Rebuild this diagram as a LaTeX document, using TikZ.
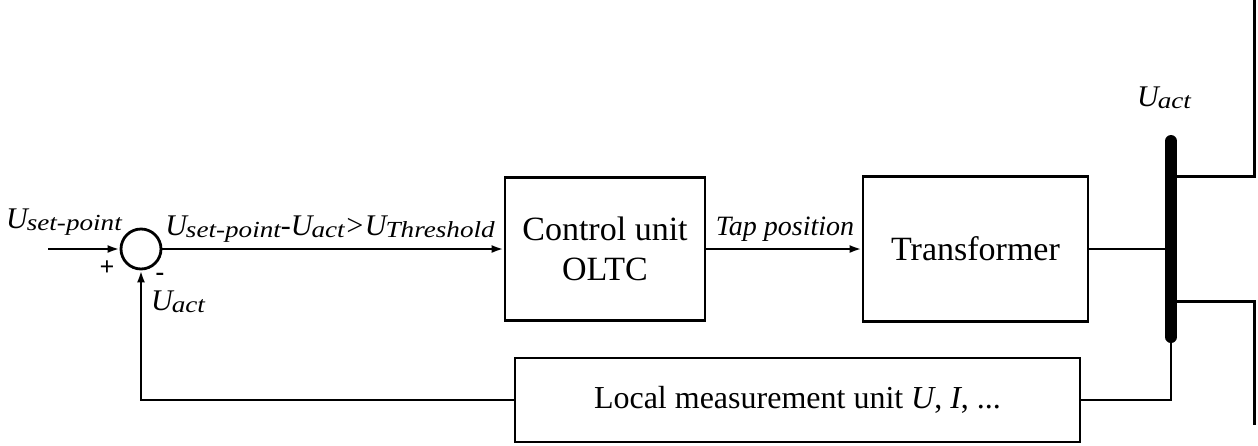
\documentclass[tikz,border=0pt]{standalone}
\usepackage{fontspec}
\setmainfont{Liberation Serif}
\usetikzlibrary{arrows.meta}
\newcommand\Uv[1]{{\fontsize{30}{30}\selectfont\itshape U\kern-1pt\raisebox{-2pt}{\scalebox{1.18}[1]{\fontsize{23}{23}\selectfont #1}}}}
\begin{document}
\begin{tikzpicture}[x=1pt,y=-1pt,
  blk/.style={draw, line width=2.8pt, inner sep=0pt, align=center, font=\fontsize{34}{40}\selectfont},
  arr/.style={-{Latex[length=12pt,width=8pt]}},
  wire/.style={line width=2.5pt},
  branch/.style={line width=3pt},
  busbar/.style={line width=12pt, line cap=round},
  lbl/.style={inner sep=0pt}]
\useasboundingbox (0,0) rectangle (1258,445);
\node[draw, circle, line width=2.8pt, minimum size=40pt, inner sep=0pt] (sum) at (141,249) {};
\node[blk, minimum width=200pt, minimum height=143pt] (ctrl) at (605,249) {Control unit\\OLTC};
\node[blk, minimum width=225pt, minimum height=145pt] (trans) at (975.5,249) {Transformer};
\node[blk, minimum width=565pt, minimum height=84pt, font=\fontsize{32}{36}\selectfont] (meas) at (797.5,400) {Local measurement unit \textit{U}, \textit{I}, ...};
\coordinate (inS) at (48,249);
\coordinate (bt) at (1171,141);
\coordinate (bb) at (1171,337);
\coordinate (j1) at (1171,176);
\coordinate (t1) at (1254,0);
\coordinate (j2) at (1171,301);
\coordinate (t2) at (1254,425);
\draw[wire,arr] (inS) -- (sum.west);
\draw[wire,arr] (sum.east) -- (sum.east -| ctrl.west);
\draw[wire,arr] (ctrl.east) -- (ctrl.east -| trans.west);
\draw[busbar] (bt) -- (bb);
\draw[wire] (trans.east) -- (trans.east -| bt);
\draw[branch] (j1) -| (t1);
\draw[branch] (j2) -| (t2);
\draw[wire] (meas.east) -| (bb);
\draw[wire,arr] (meas.west) -| (sum.south);
\node[lbl] (lsp) at (64,222) {\Uv{set-point}};
\node[lbl] (lplus) at (107,268) {\fontsize{26}{26}\selectfont\bfseries +};
\node[lbl] (lminus) at (160,277) {\fontsize{26}{26}\selectfont\bfseries -};
\node[lbl] (lua) at (178,302) {\Uv{act}};
\node[lbl] (lthr) at (330,229) {\Uv{set-point}{\fontsize{30}{30}\selectfont\itshape -}\Uv{act}{\fontsize{30}{30}\selectfont\itshape >}\Uv{Threshold}};
\node[lbl] (ltap) at (785,229) {\fontsize{28}{28}\selectfont\itshape Tap position};
\node[lbl] (lub) at (1164,98) {\Uv{act}};
\end{tikzpicture}
\end{document}
